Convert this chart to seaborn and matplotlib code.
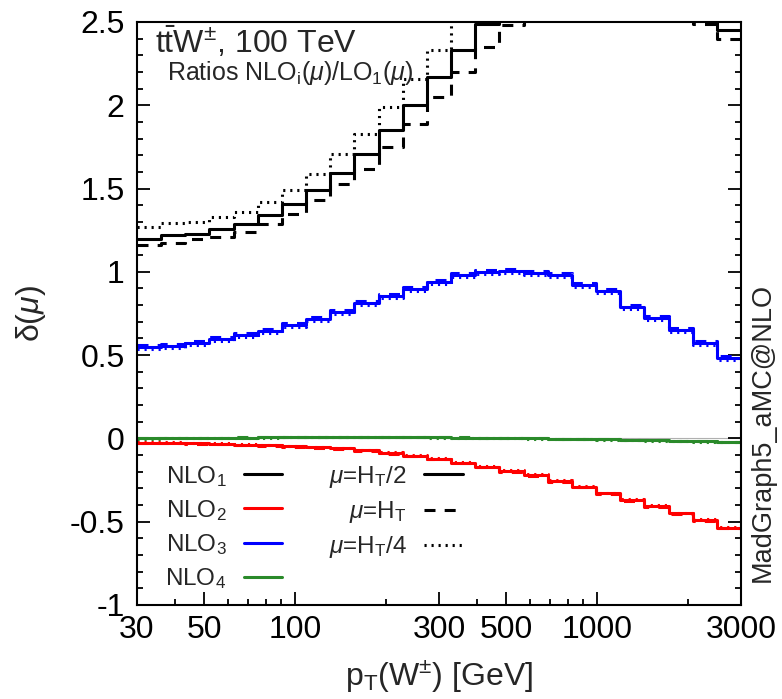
import numpy as np
import pandas as pd
import matplotlib
matplotlib.use("Agg")
import matplotlib.pyplot as plt
from matplotlib.lines import Line2D
from matplotlib.ticker import FixedLocator, NullFormatter
import seaborn as sns

# 25 logarithmic bins in pT(W) from 30 to 3000 GeV
pt_edges = np.geomspace(30, 3000, 26)

# NLO_1 / LO_1 ratios for the three scale choices
nlo1_ht2 = [1.20, 1.22, 1.23, 1.255, 1.29, 1.34, 1.41, 1.49, 1.595, 1.71, 1.85, 2.00, 2.17,
            2.33, 2.49, 2.62, 2.74, 2.84, 2.90, 2.92, 2.88, 2.78, 2.66, 2.55, 2.45]
nlo1_ht = [1.16, 1.175, 1.20, 1.21, 1.24, 1.285, 1.35, 1.43, 1.525, 1.62, 1.75, 1.89, 2.05,
           2.20, 2.35, 2.48, 2.60, 2.70, 2.76, 2.78, 2.74, 2.66, 2.57, 2.49, 2.40]
nlo1_ht4 = [1.27, 1.295, 1.30, 1.33, 1.36, 1.42, 1.49, 1.59, 1.71, 1.83, 1.99, 2.16, 2.33,
            2.56, 2.75, 2.90, 3.02, 3.10, 3.14, 3.15, 3.10, 3.00, 2.88, 2.75, 2.62]

# NLO_2 / LO_1
nlo2_ht2 = [-0.025, -0.027, -0.030, -0.033, -0.037, -0.041, -0.046, -0.052, -0.059, -0.072,
            -0.088, -0.104, -0.121, -0.145, -0.169, -0.195, -0.219, -0.255, -0.289, -0.329,
            -0.369, -0.405, -0.449, -0.489, -0.535]
nlo2_ht = [-0.028, -0.030, -0.033, -0.036, -0.040, -0.044, -0.050, -0.056, -0.063, -0.076,
           -0.092, -0.108, -0.125, -0.149, -0.173, -0.199, -0.223, -0.259, -0.293, -0.333,
           -0.373, -0.409, -0.453, -0.493, -0.539]
nlo2_ht4 = [-0.022, -0.024, -0.027, -0.030, -0.034, -0.038, -0.043, -0.049, -0.056, -0.068,
            -0.084, -0.100, -0.117, -0.141, -0.165, -0.191, -0.215, -0.251, -0.285, -0.325,
            -0.365, -0.401, -0.445, -0.485, -0.531]

# NLO_3 / LO_1
nlo3_ht2 = [0.547, 0.555, 0.571, 0.595, 0.619, 0.647, 0.681, 0.717, 0.758, 0.811, 0.855,
            0.897, 0.941, 0.981, 0.998, 1.007, 0.991, 0.978, 0.921, 0.885, 0.787, 0.721,
            0.651, 0.571, 0.481]
nlo3_ht = [0.558, 0.567, 0.583, 0.607, 0.631, 0.659, 0.693, 0.729, 0.770, 0.823, 0.867,
           0.909, 0.953, 0.993, 1.010, 1.019, 1.003, 0.990, 0.933, 0.897, 0.799, 0.733,
           0.663, 0.583, 0.493]
nlo3_ht4 = [0.535, 0.543, 0.559, 0.583, 0.607, 0.635, 0.669, 0.705, 0.746, 0.799, 0.843,
            0.885, 0.929, 0.969, 0.986, 0.995, 0.979, 0.966, 0.909, 0.873, 0.775, 0.709,
            0.639, 0.559, 0.469]

# NLO_4 / LO_1
nlo4_ht2 = [0.000, 0.002, 0.003, 0.004, 0.005, 0.006, 0.007, 0.007, 0.008, 0.008, 0.008,
            0.007, 0.006, 0.005, 0.004, 0.002, 0.000, -0.002, -0.004, -0.006, -0.009,
            -0.012, -0.015, -0.018, -0.022]
nlo4_ht = [0.001, 0.003, 0.004, 0.005, 0.006, 0.007, 0.008, 0.008, 0.009, 0.009, 0.009,
           0.008, 0.007, 0.006, 0.005, 0.003, 0.001, -0.001, -0.003, -0.005, -0.008,
           -0.011, -0.014, -0.017, -0.021]
nlo4_ht4 = [-0.001, 0.001, 0.002, 0.003, 0.004, 0.005, 0.006, 0.006, 0.007, 0.007, 0.007,
            0.006, 0.005, 0.004, 0.003, 0.001, -0.001, -0.003, -0.005, -0.007, -0.010,
            -0.013, -0.016, -0.019, -0.023]

orders = ["NLO1", "NLO2", "NLO3", "NLO4"]
order_labels = [r"NLO$_1$", r"NLO$_2$", r"NLO$_3$", r"NLO$_4$"]
scales = ["HT/2", "HT", "HT/4"]
scale_labels = [r"$\mu$=H$_\mathrm{T}$/2", r"$\mu$=H$_\mathrm{T}$", r"$\mu$=H$_\mathrm{T}$/4"]
series = {
    "NLO1": [nlo1_ht2, nlo1_ht, nlo1_ht4],
    "NLO2": [nlo2_ht2, nlo2_ht, nlo2_ht4],
    "NLO3": [nlo3_ht2, nlo3_ht, nlo3_ht4],
    "NLO4": [nlo4_ht2, nlo4_ht, nlo4_ht4],
}

colors = {"NLO1": "#000000", "NLO2": "#ff0000", "NLO3": "#0000ff", "NLO4": "#2a8a2a"}
dash_map = {"HT/2": "", "HT": (3.6, 3.0), "HT/4": (0.7, 1.6)}

# long-form table: each histogram repeated at the last edge so the step closes at 3000 GeV
rows = []
for order in orders:
    for scale, vals in zip(scales, series[order]):
        ys = list(vals) + [vals[-1]]
        for x, y in zip(pt_edges, ys):
            rows.append({"pt": x, "delta": y, "order": order, "scale": scale})
df = pd.DataFrame(rows)

sns.set_style("white")
plt.rcParams["font.family"] = ["Liberation Sans", "DejaVu Sans"]
plt.rcParams["mathtext.fontset"] = "custom"
plt.rcParams["mathtext.rm"] = "Liberation Sans"
plt.rcParams["mathtext.it"] = "Liberation Sans:italic"
plt.rcParams["mathtext.bf"] = "Liberation Sans:bold"
plt.rcParams["axes.unicode_minus"] = False

fig = plt.figure(figsize=(7.82, 6.99), dpi=100)
ax = fig.add_axes([0.1752, 0.1345, 0.7724, 0.8341])

ax.axhline(0, color="#b0b0b0", lw=0.8, zorder=0.5)

sns.lineplot(data=df, x="pt", y="delta", hue="order", style="scale",
             hue_order=orders, style_order=scales, palette=colors, dashes=dash_map,
             estimator=None, sort=False, drawstyle="steps-post", linewidth=2.2,
             legend=False, ax=ax)

ax.set_xscale("log")
ax.set_xlim(30, 3000)
ax.set_ylim(-1, 2.5)

xt = [30, 50, 100, 300, 500, 1000, 3000]
ax.xaxis.set_major_locator(FixedLocator(xt))
ax.xaxis.set_minor_locator(FixedLocator([40, 60, 70, 80, 90, 200, 400, 600, 700, 800, 900, 2000]))
ax.xaxis.set_minor_formatter(NullFormatter())
ax.set_xticklabels([str(v) for v in xt])

yt = [-1, -0.5, 0, 0.5, 1, 1.5, 2, 2.5]
ax.set_yticks(yt)
ax.set_yticklabels(["-1", "-0.5", "0", "0.5", "1", "1.5", "2", "2.5"])
ax.yaxis.set_minor_locator(FixedLocator(np.round(np.arange(-1, 2.51, 0.1), 2)))

ax.tick_params(which="both", direction="in", left=True, right=True, bottom=True, top=False,
               width=1.3, colors="black")
ax.tick_params(which="major", length=9.5, labelsize=23)
ax.tick_params(which="minor", length=4.5)
ax.tick_params(axis="x", which="major", pad=7)
ax.tick_params(axis="y", which="major", pad=9)

for sp in ax.spines.values():
    sp.set_linewidth(1.5)
    sp.set_color("black")

ax.set_xlabel(r"p$_\mathrm{T}$(W$^{\pm}$) [GeV]", fontsize=23)
ax.set_ylabel(r"$\mathrm{\delta}$($\mu$)", fontsize=23)
ax.yaxis.set_label_coords(-0.147, 0.5)
ax.xaxis.set_label_coords(0.5, -0.092)

ax.text(0.03, 0.947, r"$\mathrm{t\bar{t}W^{\pm}}$, 100 TeV", transform=ax.transAxes,
        fontsize=23, ha="left", va="baseline")
ax.text(0.05, 0.9, r"Ratios NLO$_\mathrm{i}$($\mu$)/LO$_1$($\mu$)", transform=ax.transAxes,
        fontsize=18, ha="left", va="baseline")

fig.text(0.976, 1 - 582 / 699, "MadGraph5_aMC@NLO", rotation=90, ha="center", va="bottom",
         fontsize=19.5)

# legend: order colours in the first column, scale line styles in the second
handles = [Line2D([], [], color=colors[o], lw=2.2) for o in orders]
handles += [Line2D([], [], color="black", lw=2.2, dashes=(None, None) if d == "" else d)
            for d in [dash_map[s] for s in scales]]
labels = order_labels + scale_labels
ax.legend(handles, labels, ncol=2, markerfirst=False, frameon=False, loc="upper left",
          bbox_to_anchor=(0.027, 0.263), borderpad=0, fontsize=17.5, handlelength=1.6,
          handletextpad=0.7, columnspacing=1.9, labelspacing=0.38)

fig.savefig("out.png", dpi=100)
